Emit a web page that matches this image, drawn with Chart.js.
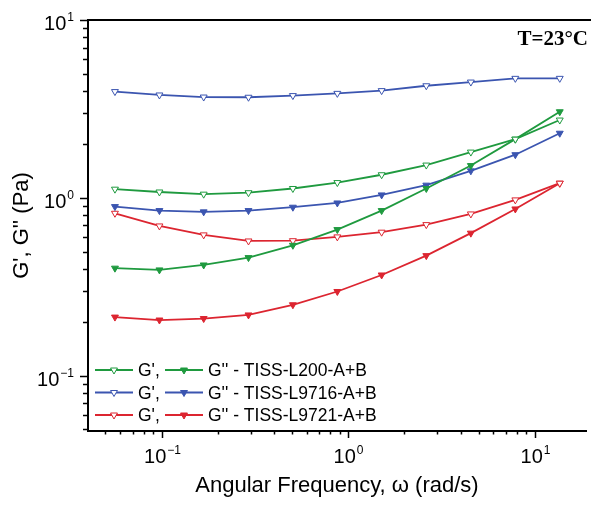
<!DOCTYPE html>
<html>
<head>
<meta charset="utf-8">
<script src="https://cdn.jsdelivr.net/npm/chart.js@4.4.0/dist/chart.umd.min.js"></script>
<style>
  html, body { margin: 0; padding: 0; background: #ffffff; overflow: hidden; }
  canvas { display: block; }
</style>
</head>
<body>
<canvas id="chart" width="591" height="508"></canvas>
<script>
"use strict";

// angular frequency (rad/s)
const frequency = [0.0562, 0.0973, 0.168, 0.292, 0.505, 0.874, 1.51, 2.62, 4.54, 7.86, 13.6];

// storage (G') and loss (G'') modulus, Pa
const gPrimeL200 = [1.12, 1.08, 1.05, 1.07, 1.13, 1.22, 1.35, 1.53, 1.81, 2.14, 2.74];
const gDoubleL200 = [0.403, 0.394, 0.42, 0.462, 0.542, 0.664, 0.849, 1.13, 1.52, 2.14, 3.05];
const gPrimeL9716 = [3.96, 3.79, 3.69, 3.68, 3.76, 3.87, 4.01, 4.27, 4.48, 4.70, 4.70];
const gDoubleL9716 = [0.894, 0.849, 0.835, 0.849, 0.887, 0.937, 1.04, 1.18, 1.42, 1.75, 2.31];
const gPrimeL9721 = [0.82, 0.696, 0.62, 0.573, 0.575, 0.604, 0.642, 0.708, 0.813, 0.975, 1.21];
const gDoubleL9721 = [0.214, 0.206, 0.210, 0.220, 0.251, 0.298, 0.369, 0.474, 0.634, 0.867, 1.21];

const sampleNames = ['TISS-L200-A+B', 'TISS-L9716-A+B', 'TISS-L9721-A+B'];
const xRange = [0.0403, 18.8];
const yRange = [0.049, 10];

const GREEN = '#1f9a3f';
const BLUE = '#3b55b0';
const RED = '#dc2530';
const sampleColors = [GREEN, BLUE, RED];

const FONT = "'Liberation Sans', Arial, sans-serif";

function toPoints(values) {
    return values.map((v, i) => ({x: frequency[i], y: v}));
}

function makeDataset(label, values, color, filled) {
    return {
        label: label,
        data: toPoints(values),
        borderColor: color,
        borderWidth: 1.8,
        pointStyle: 'triangle',
        pointRotation: 180,
        pointRadius: 4,
        pointBorderWidth: 1,
        pointBorderColor: color,
        pointBackgroundColor: filled ? color : '#ffffff',
        tension: 0
    };
}

// log tick positions: majors at the decades, minors at 2..9
function logTicks(min, max) {
    const out = [];
    const e0 = Math.floor(Math.log10(min));
    const e1 = Math.ceil(Math.log10(max));
    for (let e = e0; e <= e1; e++) {
        for (let m = 1; m <= 9; m++) {
            const v = m * Math.pow(10, e);
            if (v >= min * 0.999 && v <= max * 1.001) out.push({value: v, major: m === 1, exp: e});
        }
    }
    return out;
}

function expText(e) {
    return e < 0 ? '\u2212' + Math.abs(e) : String(e);
}

function drawMarker(ctx, x, y, color, filled) {
    ctx.save();
    ctx.fillStyle = filled ? color : '#ffffff';
    ctx.strokeStyle = color;
    ctx.lineWidth = 1;
    Chart.helpers.drawPoint(ctx, {pointStyle: 'triangle', rotation: 180, radius: 4, borderWidth: 1}, x, y);
    ctx.restore();
}

// axis ticks, superscript labels, top frame, legend and temperature note
const decorations = {
    id: 'decorations',
    afterDraw(chart) {
        const ctx = chart.ctx;
        const area = chart.chartArea;
        const xs = chart.scales.x;
        const ys = chart.scales.y;

        ctx.save();
        ctx.strokeStyle = '#000000';
        ctx.fillStyle = '#000000';

        // top frame line
        ctx.lineWidth = 2;
        ctx.beginPath();
        ctx.moveTo(area.left - 1, area.top);
        ctx.lineTo(chart.width, area.top);
        ctx.stroke();

        ctx.lineWidth = 1.5;
        logTicks(xRange[0], xRange[1]).forEach(t => {
            const px = Math.round(xs.getPixelForValue(t.value)) + 0.5;
            ctx.beginPath();
            ctx.moveTo(px, area.bottom);
            ctx.lineTo(px, area.bottom + (t.major ? 7 : 3.5));
            ctx.stroke();
            if (t.major) {
                ctx.font = '20px ' + FONT;
                const base = '10';
                const wBase = ctx.measureText(base).width;
                ctx.font = '12px ' + FONT;
                const sup = expText(t.exp);
                const wSup = ctx.measureText(sup).width;
                const start = px - (wBase + wSup + 1) / 2;
                ctx.textAlign = 'left';
                ctx.textBaseline = 'alphabetic';
                ctx.fillText(sup, start + wBase + 1, area.bottom + 23);
                ctx.font = '20px ' + FONT;
                ctx.fillText(base, start, area.bottom + 32);
            }
        });

        logTicks(yRange[0], yRange[1]).forEach(t => {
            const py = Math.round(ys.getPixelForValue(t.value)) + 0.5;
            ctx.beginPath();
            ctx.moveTo(area.left, py);
            ctx.lineTo(area.left - (t.major ? 8 : 5), py);
            ctx.stroke();
            if (t.major) {
                const right = area.left - 14;
                ctx.font = '12px ' + FONT;
                const sup = expText(t.exp);
                const wSup = ctx.measureText(sup).width;
                ctx.textAlign = 'right';
                ctx.textBaseline = 'alphabetic';
                ctx.fillText(sup, right, py);
                ctx.font = '20px ' + FONT;
                ctx.fillText('10', right - wSup - 1, py + 9);
            }
        });

        // legend: G' (open) and G'' (filled) pair per sample
        const rowY = [370, 392.5, 415];
        sampleNames.forEach((name, i) => {
            const y = rowY[i];
            const color = sampleColors[i];
            ctx.strokeStyle = color;
            ctx.lineWidth = 1.8;
            ctx.beginPath();
            ctx.moveTo(95, y);
            ctx.lineTo(133, y);
            ctx.moveTo(165, y);
            ctx.lineTo(203, y);
            ctx.stroke();
            drawMarker(ctx, 114, y, color, false);
            drawMarker(ctx, 184, y, color, true);
            ctx.fillStyle = '#000000';
            ctx.font = '17.5px ' + FONT;
            ctx.textAlign = 'left';
            ctx.textBaseline = 'alphabetic';
            ctx.fillText("G',", 138, y + 6.3);
            ctx.fillText("G'' - " + name, 208, y + 6.3);
        });

        ctx.fillStyle = '#000000';
        ctx.font = "bold 21px 'Liberation Serif', 'Times New Roman', serif";
        ctx.textAlign = 'right';
        ctx.textBaseline = 'alphabetic';
        ctx.fillText('T=23\u00B0C', 588, 45);

        ctx.restore();
    }
};

const ctx = document.getElementById('chart').getContext('2d');

const chart = new Chart(ctx, {
    type: 'line',
    data: {
        datasets: [
            makeDataset("G' " + sampleNames[0], gPrimeL200, GREEN, false),
            makeDataset("G'' " + sampleNames[0], gDoubleL200, GREEN, true),
            makeDataset("G' " + sampleNames[1], gPrimeL9716, BLUE, false),
            makeDataset("G'' " + sampleNames[1], gDoubleL9716, BLUE, true),
            makeDataset("G' " + sampleNames[2], gPrimeL9721, RED, false),
            makeDataset("G'' " + sampleNames[2], gDoubleL9721, RED, true)
        ]
    },
    options: {
        responsive: false,
        animation: false,
        devicePixelRatio: 1,
        layout: {
            padding: {top: 20, left: 0, right: 0, bottom: 0}
        },
        plugins: {
            legend: {display: false},
            tooltip: {enabled: false}
        },
        scales: {
            x: {
                type: 'logarithmic',
                min: xRange[0],
                max: xRange[1],
                grid: {display: false},
                border: {display: true, color: '#000000', width: 2},
                ticks: {display: false},
                title: {
                    display: true,
                    text: 'Angular Frequency, \u03C9 (rad/s)',
                    color: '#000000',
                    font: {family: FONT, size: 22},
                    padding: {top: 0, bottom: 9}
                },
                afterFit: scale => { scale.height = 77; }
            },
            y: {
                type: 'logarithmic',
                min: yRange[0],
                max: yRange[1],
                grid: {display: false},
                border: {display: true, color: '#000000', width: 2},
                ticks: {display: false},
                title: {
                    display: true,
                    text: "G', G'' (Pa)",
                    color: '#000000',
                    font: {family: FONT, size: 22},
                    padding: {top: 9, bottom: 0}
                },
                afterFit: scale => { scale.width = 88; }
            }
        }
    },
    plugins: [decorations]
});

// pin the plot area to the reference frame (left 88, right 591, top 20, bottom 431)
const area = chart.chartArea;
const pad = chart.options.layout.padding;
pad.right -= (591 - area.right);
pad.top += (20 - area.top);
chart.update();
</script>
</body>
</html>
